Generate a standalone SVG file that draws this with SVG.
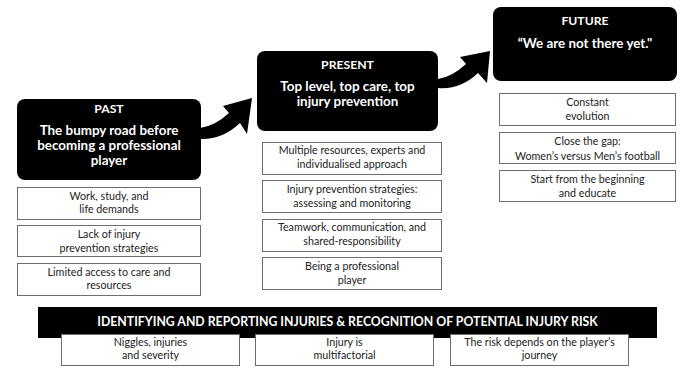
<svg xmlns="http://www.w3.org/2000/svg" width="680" height="374" viewBox="0 0 680 374">
<style>
.hdr{fill:#000;}
.box{fill:#fff;stroke:#6e6e6e;stroke-width:1;}
.t{font-family:Lato,"Liberation Sans",sans-serif;text-anchor:middle;}
.w{fill:#fff;font-weight:bold;}
.ttl{font-size:12.2px;}
.sub{font-size:13.4px;}
.s{fill:#222;font-size:10.7px;}
.bar{fill:#fff;font-weight:bold;font-size:12.3px;}
.arr{fill:#000;}
</style>
<rect width="680" height="374" fill="#fff"/>
<g id="connectors">
<path class="arr" d="M200,128 Q215,126 229,113 L223,106 L252,98 L247,134 L240,123 Q222,140 200,139 Z"/>
<path class="arr" d="M438,79 Q452,77 466,64 L460,57 L490,51 L487,83 L478,73 Q460,90 438,88 Z"/>
</g>
<g id="past">
<rect class="hdr" x="17" y="99" width="184" height="81" rx="8"/>
<text class="t w ttl" x="109" y="113">PAST</text>
<text class="t w sub" x="109" y="135">The bumpy road before</text>
<text class="t w sub" x="109" y="150">becoming a professional</text>
<text class="t w sub" x="109" y="165">player</text>
</g>
<g id="past1">
<rect class="box" x="17.5" y="187.5" width="183" height="32"/>
<text class="t s" x="109" y="200">Work, study, and</text>
<text class="t s" x="109" y="213">life demands</text>
</g>
<g id="past2">
<rect class="box" x="17.5" y="225.5" width="183" height="31"/>
<text class="t s" x="109" y="238">Lack of injury</text>
<text class="t s" x="109" y="252">prevention strategies</text>
</g>
<g id="past3">
<rect class="box" x="17.5" y="263.5" width="183" height="32"/>
<text class="t s" x="109" y="276">Limited access to care and</text>
<text class="t s" x="109" y="289">resources</text>
</g>
<g id="present">
<rect class="hdr" x="257" y="51" width="181" height="80" rx="8"/>
<text class="t w ttl" x="347.5" y="69">PRESENT</text>
<text class="t w sub" x="347.5" y="91">Top level, top care, top</text>
<text class="t w sub" x="347.5" y="106">injury prevention</text>
</g>
<g id="present1">
<rect class="box" x="262.5" y="142.5" width="179" height="32"/>
<text class="t s" x="352" y="154">Multiple resources, experts and</text>
<text class="t s" x="352" y="168">individualised approach</text>
</g>
<g id="present2">
<rect class="box" x="262.5" y="180.5" width="179" height="32"/>
<text class="t s" x="352" y="193">Injury prevention strategies:</text>
<text class="t s" x="352" y="207">assessing and monitoring</text>
</g>
<g id="present3">
<rect class="box" x="262.5" y="219.5" width="179" height="32"/>
<text class="t s" x="352" y="231">Teamwork, communication, and</text>
<text class="t s" x="352" y="245">shared-responsibility</text>
</g>
<g id="present4">
<rect class="box" x="262.5" y="257.5" width="179" height="32"/>
<text class="t s" x="352" y="270">Being a professional</text>
<text class="t s" x="352" y="284">player</text>
</g>
<g id="future">
<rect class="hdr" x="493" y="7" width="184" height="74" rx="8"/>
<text class="t w ttl" x="585" y="25">FUTURE</text>
<text class="t w sub" x="585" y="48">“We are not there yet."</text>
</g>
<g id="future1">
<rect class="box" x="499.5" y="93.5" width="176" height="32"/>
<text class="t s" x="587.5" y="106">Constant</text>
<text class="t s" x="587.5" y="120">evolution</text>
</g>
<g id="future2">
<rect class="box" x="499.5" y="132.5" width="176" height="31"/>
<text class="t s" x="587.5" y="145">Close the gap:</text>
<text class="t s" x="587.5" y="160">Women’s versus Men’s football</text>
</g>
<g id="future3">
<rect class="box" x="499.5" y="170.5" width="176" height="31"/>
<text class="t s" x="587.5" y="183">Start from the beginning</text>
<text class="t s" x="587.5" y="197">and educate</text>
</g>
<g id="bar">
<rect class="hdr" x="38" y="307" width="619" height="31"/>
<text class="t bar" x="347.5" y="326">IDENTIFYING AND REPORTING INJURIES &amp; RECOGNITION OF POTENTIAL INJURY RISK</text>
</g>
<g id="bottom1">
<rect class="box" x="61.5" y="334.5" width="178" height="31"/>
<text class="t s" x="150.5" y="346">Niggles, injuries</text>
<text class="t s" x="150.5" y="359">and severity</text>
</g>
<g id="bottom2">
<rect class="box" x="255.5" y="334.5" width="178" height="31"/>
<text class="t s" x="344.5" y="346">Injury is</text>
<text class="t s" x="344.5" y="359">multifactorial</text>
</g>
<g id="bottom3">
<rect class="box" x="450.5" y="334.5" width="178" height="31"/>
<text class="t s" x="539.5" y="346">The risk depends on the player’s</text>
<text class="t s" x="539.5" y="359">journey</text>
</g>
</svg>
